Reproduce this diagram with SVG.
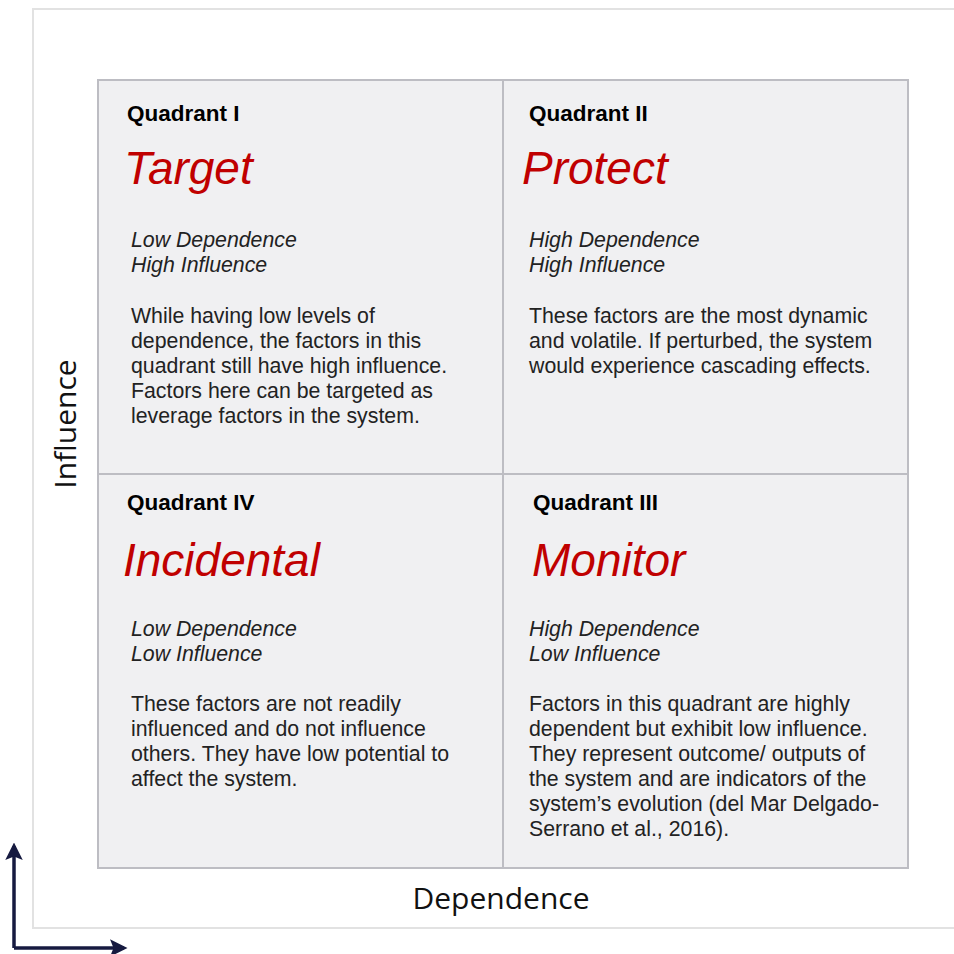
<svg xmlns="http://www.w3.org/2000/svg" width="954" height="954" viewBox="0 0 954 954">
<defs>
<style>
.cell{fill:#f0f0f2;stroke:#bdbdc3;stroke-width:2}
.ql{font-family:"Liberation Sans",Arial,sans-serif;font-weight:bold;font-size:22.5px;fill:#000}
.tt{font-family:"Liberation Sans",Arial,sans-serif;font-style:italic;font-size:46px;fill:#c00000}
.it{font-family:"Liberation Sans",Arial,sans-serif;font-style:italic;font-size:21.3px;fill:#222}
.bd{font-family:"Liberation Sans",Arial,sans-serif;font-size:21.3px;fill:#222}
.ax{font-family:"Open Sans","Liberation Sans",sans-serif;font-size:30px;fill:#111}
.arr{stroke:#161a40;stroke-width:3.5;fill:none}
</style>
<marker id="ah" viewBox="0 0 10 10" refX="8" refY="5" markerWidth="5" markerHeight="5" orient="auto" markerUnits="strokeWidth">
<path d="M0,0 L10,5 L0,10 L2,5 Z" fill="#161a40"/>
</marker>
</defs>
<rect width="954" height="954" fill="#fff"/>
<rect x="33" y="9" width="940" height="919" fill="#fff" stroke="#e2e2e2" stroke-width="2"/>

<g id="q1">
<rect class="cell" x="98" y="80" width="405" height="394"/>
<text class="ql" x="127" y="121">Quadrant I</text>
<text class="tt" x="124" y="184">Target</text>
<text class="it" x="131" y="247">Low Dependence</text>
<text class="it" x="131" y="272">High Influence</text>
<text class="bd" x="131" y="323">While having low levels of</text>
<text class="bd" x="131" y="348">dependence, the factors in this</text>
<text class="bd" x="131" y="373">quadrant still have high influence.</text>
<text class="bd" x="131" y="398">Factors here can be targeted as</text>
<text class="bd" x="131" y="423">leverage factors in the system.</text>
</g>
<g id="q2">
<rect class="cell" x="503" y="80" width="405" height="394"/>
<text class="ql" x="529" y="121">Quadrant II</text>
<text class="tt" x="522" y="184">Protect</text>
<text class="it" x="529" y="247">High Dependence</text>
<text class="it" x="529" y="272">High Influence</text>
<text class="bd" x="529" y="323">These factors are the most dynamic</text>
<text class="bd" x="529" y="348">and volatile. If perturbed, the system</text>
<text class="bd" x="529" y="373">would experience cascading effects.</text>
</g>
<g id="q4">
<rect class="cell" x="98" y="474" width="405" height="394"/>
<text class="ql" x="127" y="510">Quadrant IV</text>
<text class="tt" x="123" y="576">Incidental</text>
<text class="it" x="131" y="636">Low Dependence</text>
<text class="it" x="131" y="661">Low Influence</text>
<text class="bd" x="131" y="711">These factors are not readily</text>
<text class="bd" x="131" y="736">influenced and do not influence</text>
<text class="bd" x="131" y="761">others. They have low potential to</text>
<text class="bd" x="131" y="786">affect the system.</text>
</g>
<g id="q3">
<rect class="cell" x="503" y="474" width="405" height="394"/>
<text class="ql" x="533" y="510">Quadrant III</text>
<text class="tt" x="532" y="576">Monitor</text>
<text class="it" x="529" y="636">High Dependence</text>
<text class="it" x="529" y="661">Low Influence</text>
<text class="bd" x="529" y="711">Factors in this quadrant are highly</text>
<text class="bd" x="529" y="736">dependent but exhibit low influence.</text>
<text class="bd" x="529" y="761">They represent outcome/ outputs of</text>
<text class="bd" x="529" y="786">the system and are indicators of the</text>
<text class="bd" x="529" y="811">system’s evolution (del Mar Delgado-</text>
<text class="bd" x="529" y="836">Serrano et al., 2016).</text>
</g>

<g id="axis-labels">
<text class="ax" transform="translate(76,424) rotate(-90)" text-anchor="middle">Influence</text>
<text class="ax" x="501" y="909" text-anchor="middle">Dependence</text>
</g>

<g id="connectors">
<path class="arr" d="M14,948 L14,846" marker-end="url(#ah)"/>
<path class="arr" d="M14,948 L124,948" marker-end="url(#ah)"/>
</g>
</svg>
